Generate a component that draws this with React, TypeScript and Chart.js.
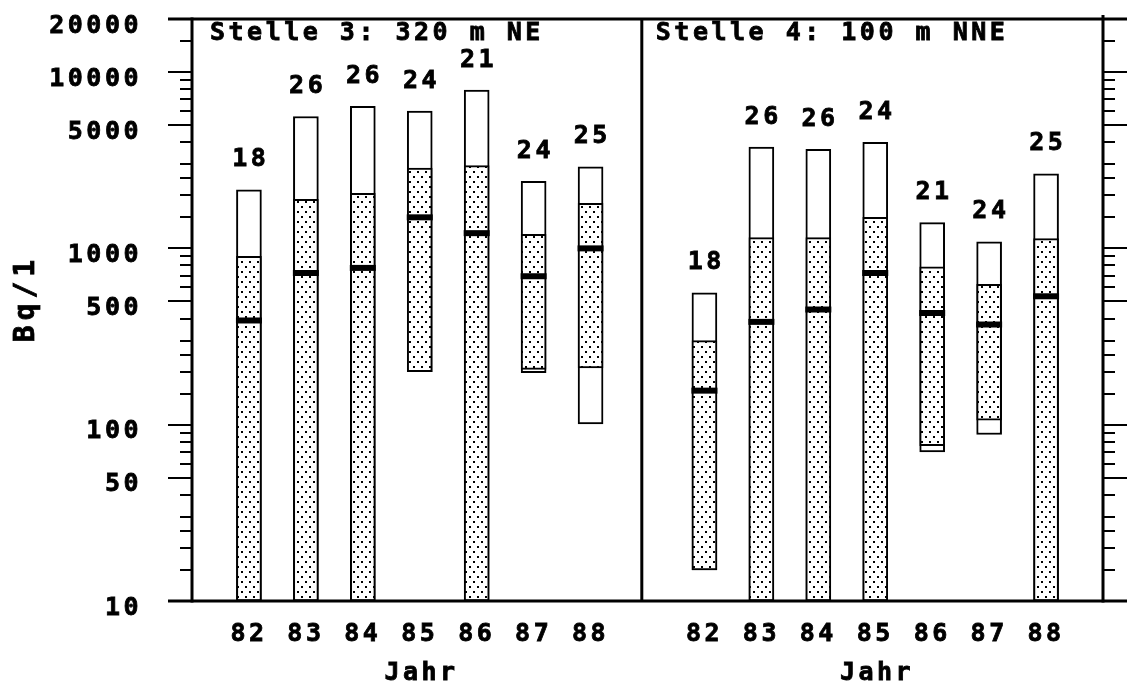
import React, { useEffect, useRef } from "react";
import { Chart, registerables } from "chart.js";

Chart.register(...registerables);

// ---- data ----
const years = ["82", "83", "84", "85", "86", "87", "88"];
const panelTitles = ["Stelle 3: 320 m NE", "Stelle 4: 100 m NNE"];
const xAxisTitle = "Jahr";
const yAxisTitle = "Bq/1";

// Stelle 3
const s3Max = [2150, 5600, 6400, 6000, 7900, 2400, 2900];
const s3Upper = [900, 1900, 2050, 2850, 2950, 1200, 1800];
const s3Median = [390, 725, 775, 1500, 1220, 695, 1000];
const s3Lower = [10, 10, 10, 200, 10, 206, 210];
const s3Min = [10, 10, 10, 200, 10, 197, 101];
const s3N = [18, 26, 26, 24, 21, 24, 25];

// Stelle 4
const s4Max = [560, 3750, 3650, 4000, 1400, 1090, 2650];
const s4Upper = [300, 1150, 1150, 1500, 785, 625, 1135];
const s4Median = [156, 383, 450, 725, 430, 370, 535];
const s4Lower = [15, 10, 10, 10, 76, 106, 10];
const s4Min = [15, 10, 10, 10, 70, 88, 10];
const s4N = [18, 26, 26, 24, 21, 24, 25];

const yTicks = [
  10, 15, 20, 25, 30, 40, 50, 60, 70, 80, 90,
  100, 150, 200, 250, 300, 400, 500, 600, 700, 800, 900,
  1000, 1500, 2000, 2500, 3000, 4000, 5000, 6000, 7000, 8000, 9000,
  10000, 15000, 20000,
];
const yLabelled = [10, 50, 100, 500, 1000, 5000, 10000, 20000];

// ---- helpers ----
const panels = [
  { max: s3Max, upper: s3Upper, median: s3Median, lower: s3Lower, min: s3Min, n: s3N },
  { max: s4Max, upper: s4Upper, median: s4Median, lower: s4Lower, min: s4Min, n: s4N },
];
const slot = (pi: number, i: number) => 1 + pi * 8 + i;
const xTickValues = panels.flatMap((_, pi) => years.map((__, i) => slot(pi, i)));

const FONT = "'DejaVu Sans Mono', 'Liberation Mono', monospace";
const FSIZE = 25;
const SPACING = 3.5;
const STROKE = 0.8;

function makePattern(): CanvasPattern | string {
  const p = document.createElement("canvas");
  p.width = 8;
  p.height = 10;
  const c = p.getContext("2d");
  if (!c) return "#ccc";
  c.fillStyle = "#fff";
  c.fillRect(0, 0, 8, 10);
  c.fillStyle = "#000";
  c.fillRect(1, 1, 2, 2);
  c.fillRect(5, 6, 2, 2);
  const pat = c.createPattern(p, "repeat");
  return pat || "#ccc";
}

function boldText(ctx: CanvasRenderingContext2D, s: string, x: number, y: number) {
  ctx.fillText(s, x, y);
  ctx.lineWidth = STROKE;
  ctx.strokeStyle = "#000";
  ctx.strokeText(s, x, y);
}

const framePlugin = {
  id: "framePlugin",
  beforeDraw(chart: any) {
    (chart.ctx as any).letterSpacing = SPACING + "px";
  },
  afterDatasetsDraw(chart: any) {
    const { ctx, scales } = chart;
    const x = scales.x;
    const y = scales.y;
    ctx.save();
    (ctx as any).letterSpacing = SPACING + "px";
    ctx.fillStyle = "#000";
    ctx.font = `bold ${FSIZE}px ${FONT}`;
    ctx.textAlign = "center";
    ctx.textBaseline = "middle";
    panels.forEach((p, pi) => {
      years.forEach((_, i) => {
        const px = x.getPixelForValue(slot(pi, i));
        const py = y.getPixelForValue(p.max[i]);
        boldText(ctx, String(p.n[i]), px + SPACING / 2, py - 30);
      });
    });
    ctx.restore();
  },
  afterDraw(chart: any) {
    const { ctx, chartArea: a, scales } = chart;
    const x = scales.x;
    const y = scales.y;
    const W = chart.width;
    const line = (x1: number, y1: number, x2: number, y2: number) => {
      ctx.beginPath();
      ctx.moveTo(x1, y1);
      ctx.lineTo(x2, y2);
      ctx.stroke();
    };
    ctx.save();
    ctx.strokeStyle = "#000";
    ctx.lineCap = "butt";
    ctx.lineWidth = 3;
    const dx = x.getPixelForValue(7.9);
    line(a.left - 24, a.top, W, a.top);
    line(a.left - 24, a.bottom, W, a.bottom);
    line(a.left, a.top - 1.5, a.left, a.bottom + 1.5);
    line(dx, a.top, dx, a.bottom);
    line(a.right, a.top - 4, a.right, a.bottom + 1.5);

    ctx.lineWidth = 2;
    yTicks.forEach((v) => {
      const py = Math.round(y.getPixelForValue(v));
      const major = yLabelled.includes(v);
      const len = major ? 24 : 12;
      line(a.left - len, py, a.left, py);
      line(a.right, py, a.right + len, py);
    });

    // texts
    (ctx as any).letterSpacing = SPACING + "px";
    ctx.fillStyle = "#000";
    ctx.font = `bold ${FSIZE}px ${FONT}`;
    ctx.textBaseline = "middle";
    ctx.textAlign = "left";
    boldText(ctx, panelTitles[0], a.left + 18, 33);
    boldText(ctx, panelTitles[1], dx + 14, 33);

    ctx.textAlign = "center";
    boldText(ctx, xAxisTitle, x.getPixelForValue(slot(0, 3)) + SPACING / 2, 673);
    boldText(ctx, xAxisTitle, x.getPixelForValue(slot(1, 3)) + SPACING / 2, 673);

    (ctx as any).letterSpacing = "5px";
    ctx.font = `bold 28px ${FONT}`;
    ctx.translate(27, 301);
    ctx.rotate(-Math.PI / 2);
    boldText(ctx, yAxisTitle, 2.5, 0);
    ctx.restore();
  },
};

export default function App() {
  const ref = useRef<HTMLCanvasElement | null>(null);

  useEffect(() => {
    if (!ref.current) return;
    const pattern = makePattern();

    const boxData = panels.flatMap((p, pi) =>
      years.map((_, i) => ({ x: slot(pi, i), y: [p.min[i], p.max[i]] }))
    );
    const stippleData = panels.flatMap((p, pi) =>
      years.map((_, i) => ({ x: slot(pi, i), y: [p.lower[i], p.upper[i]] }))
    );
    const medianData = panels.flatMap((p, pi) =>
      years.map((_, i) => ({ x: slot(pi, i), y: p.median[i] }))
    );

    const chart = new Chart(ref.current, {
      type: "bar",
      data: {
        datasets: [
          {
            type: "scatter",
            label: "Median",
            data: medianData,
            pointStyle: "line",
            pointRadius: 13,
            pointHoverRadius: 13,
            pointBorderWidth: 6,
            borderColor: "#000",
            backgroundColor: "#000",
            order: 0,
          } as any,
          {
            type: "bar",
            label: "Bereich",
            data: stippleData,
            backgroundColor: pattern as any,
            borderColor: "#000",
            borderWidth: 2,
            borderSkipped: false,
            barThickness: 25,
            grouped: false,
            order: 1,
          } as any,
          {
            type: "bar",
            label: "Min-Max",
            data: boxData,
            backgroundColor: "#fff",
            borderColor: "#000",
            borderWidth: 2,
            borderSkipped: false,
            barThickness: 25,
            grouped: false,
            order: 2,
          } as any,
        ],
      },
      options: {
        animation: false,
        responsive: false,
        devicePixelRatio: 1,
        layout: { padding: { top: 16, right: 24, left: 0, bottom: 0 } },
        plugins: {
          legend: { display: false },
          tooltip: { enabled: false },
        },
        scales: {
          x: {
            type: "linear",
            offset: false,
            min: 0,
            max: 16,
            position: "bottom",
            afterBuildTicks: (s: any) => {
              s.ticks = xTickValues.map((v) => ({ value: v }));
            },
            afterFit: (s: any) => {
              s.height = 86;
              s.paddingLeft = 0;
              s.paddingRight = 0;
            },
            grid: { display: false, drawTicks: false, offset: false },
            border: { display: false },
            ticks: {
              autoSkip: false,
              maxRotation: 0,
              minRotation: 0,
              padding: 18,
              color: "#000",
              textStrokeColor: "#000",
              textStrokeWidth: STROKE,
              font: { family: FONT, size: FSIZE, weight: "bold" },
              callback: (v: any) => {
                const idx = (Number(v) - 1) % 8;
                return years[idx] ?? "";
              },
            },
          } as any,
          y: {
            type: "logarithmic",
            min: 10,
            max: 20000,
            position: "left",
            afterBuildTicks: (s: any) => {
              s.ticks = yTicks.map((v) => ({ value: v }));
            },
            afterFit: (s: any) => {
              s.width = 192;
              s.paddingTop = 0;
              s.paddingBottom = 0;
            },
            grid: { display: false, drawTicks: false },
            border: { display: false },
            ticks: {
              autoSkip: false,
              padding: 50,
              labelOffset: 7,
              color: "#000",
              textStrokeColor: "#000",
              textStrokeWidth: STROKE,
              font: { family: FONT, size: FSIZE, weight: "bold" },
              callback: (v: any) => (yLabelled.includes(Number(v)) ? String(v) : ""),
            },
          } as any,
        },
      },
      plugins: [framePlugin],
    });

    return () => chart.destroy();
  }, []);

  return (
    <div style={{ position: "absolute", left: 0, top: 0, width: 1127, height: 687, background: "#fff" }}>
      <canvas ref={ref} width={1127} height={687} style={{ display: "block" }} />
    </div>
  );
}
